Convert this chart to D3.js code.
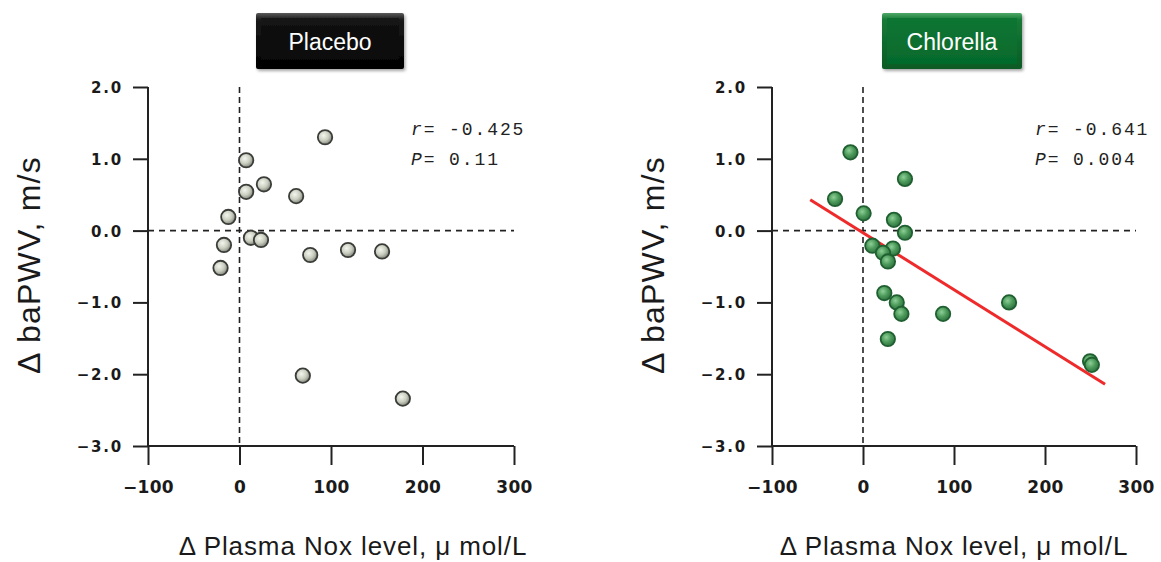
<!DOCTYPE html>
<html>
<head>
<meta charset="utf-8">
<script src="https://cdn.jsdelivr.net/npm/d3@7"></script>
<style>
  html, body { margin: 0; padding: 0; background: #ffffff; }
  svg { display: block; }
</style>
</head>
<body>
<svg id="chart" width="1161" height="562"></svg>
<script>
// ---------------- DATA ----------------
const xTicks = [-100, 0, 100, 200, 300];
const xTickLabels = ["\u2212100", "0", "100", "200", "300"];
const yTicks = [2, 1, 0, -1, -2, -3];
const yTickLabels = ["2.0", "1.0", "0.0", "\u22121.0", "\u22122.0", "\u22123.0"];

const panelTitles = ["Placebo", "Chlorella"];
const statR = ["-0.425", "-0.641"];
const statP = ["0.11", "0.004"];

const xAxisTitle = "\u0394 Plasma Nox level, \u03bc mol/L";
const yAxisTitle = "\u0394 baPWV, m/s";

// Placebo (n = 15)
const placeboX = [93.5, 7.3, 26.7, 7.3, 61.9, -12.2, 12.5, 23.5, -17.0, 77.3, 118.6, 155.8, -20.7, 69.2, 178.5];
const placeboY = [1.30, 0.98, 0.645, 0.54, 0.48, 0.19, -0.10, -0.13, -0.20, -0.34, -0.27, -0.29, -0.52, -2.02, -2.34];

// Chlorella (n = 18)
const chlorellaX = [-13.8, 46.1, -30.7, 0.7, 34.0, 46.1, 10.3, 32.9, 22.0, 27.4, 23.4, 37.1, 42.2, 88.0, 160.5, 27.3, 249.5, 251.5];
const chlorellaY = [1.09, 0.72, 0.44, 0.24, 0.15, -0.03, -0.21, -0.25, -0.31, -0.43, -0.87, -1.00, -1.16, -1.16, -1.00, -1.51, -1.82, -1.87];

// Regression line (Chlorella) end points
const fitX = [-58, 266];
const fitY = [0.43, -2.14];

// ---------------- DRAW ----------------
const svg = d3.select("#chart");
const defs = svg.append("defs");

const gPlacebo = defs.append("radialGradient").attr("id", "gradPlacebo")
  .attr("cx", "40%").attr("cy", "38%").attr("r", "65%");
gPlacebo.append("stop").attr("offset", "0%").attr("stop-color", "#f4f6ee");
gPlacebo.append("stop").attr("offset", "55%").attr("stop-color", "#c9cdbf");
gPlacebo.append("stop").attr("offset", "100%").attr("stop-color", "#7d8277");

const gGreen = defs.append("radialGradient").attr("id", "gradGreen")
  .attr("cx", "40%").attr("cy", "38%").attr("r", "65%");
gGreen.append("stop").attr("offset", "0%").attr("stop-color", "#8fcf98");
gGreen.append("stop").attr("offset", "50%").attr("stop-color", "#4e9c5c");
gGreen.append("stop").attr("offset", "100%").attr("stop-color", "#2d7040");

function linGrad(id, stops) {
  const g = defs.append("linearGradient").attr("id", id)
    .attr("x1", "0").attr("y1", "0").attr("x2", "0").attr("y2", "1");
  stops.forEach(s => g.append("stop").attr("offset", s[0]).attr("stop-color", s[1]));
}
linGrad("boxOuterBlack", [["0%", "#5a5a5a"], ["12%", "#1a1a1a"], ["100%", "#000000"]]);
linGrad("boxInnerBlack", [["0%", "#141414"], ["100%", "#050505"]]);
linGrad("boxOuterGreen", [["0%", "#4fa866"], ["12%", "#157a36"], ["100%", "#0a5a25"]]);
linGrad("boxInnerGreen", [["0%", "#0e7533"], ["100%", "#056a2c"]]);

const shadow = defs.append("filter").attr("id", "shadow")
  .attr("x", "-10%").attr("y", "-10%").attr("width", "130%").attr("height", "140%");
shadow.append("feDropShadow").attr("dx", 1.5).attr("dy", 2).attr("stdDeviation", 1.5)
  .attr("flood-color", "#000").attr("flood-opacity", 0.35);

const panels = [
  { xr: [148, 514], titleBox: [256, 404], xTitleX: 353, yTitleX: 40,
    xs: placeboX, ys: placeboY, fill: "url(#gradPlacebo)", stroke: "#3a3c38",
    outer: "url(#boxOuterBlack)", inner: "url(#boxInnerBlack)", fit: false },
  { xr: [772, 1136], titleBox: [882, 1022], xTitleX: 954, yTitleX: 664,
    xs: chlorellaX, ys: chlorellaY, fill: "url(#gradGreen)", stroke: "#1f5f30",
    outer: "url(#boxOuterGreen)", inner: "url(#boxInnerGreen)", fit: true }
];

const yRange = [446, 87];
const axisColor = "#222";

panels.forEach((p, pi) => {
  const x = d3.scaleLinear().domain([-100, 300]).range(p.xr);
  const y = d3.scaleLinear().domain([-3, 2]).range(yRange);
  const g = svg.append("g");

  // Title box
  const bx0 = p.titleBox[0], bx1 = p.titleBox[1], by0 = 13, by1 = 69;
  const box = g.append("g").attr("filter", "url(#shadow)");
  box.append("rect").attr("x", bx0).attr("y", by0).attr("width", bx1 - bx0).attr("height", by1 - by0)
    .attr("rx", 2).attr("fill", p.outer);
  box.append("rect").attr("x", bx0 + 5).attr("y", by0 + 5).attr("width", bx1 - bx0 - 10).attr("height", by1 - by0 - 10)
    .attr("fill", p.inner);
  g.append("text").attr("x", (bx0 + bx1) / 2).attr("y", 49.5)
    .attr("text-anchor", "middle").attr("fill", "#ffffff")
    .style("font-family", "'Liberation Sans', Arial, sans-serif").style("font-size", "23px")
    .text(panelTitles[pi]);

  // Reference dashed lines
  g.append("line").attr("x1", x(-100)).attr("x2", x(300)).attr("y1", y(0)).attr("y2", y(0))
    .attr("stroke", axisColor).attr("stroke-width", 1.6).attr("stroke-dasharray", "6,5");
  g.append("line").attr("x1", x(0)).attr("x2", x(0)).attr("y1", y(2)).attr("y2", y(-3))
    .attr("stroke", axisColor).attr("stroke-width", 1.6).attr("stroke-dasharray", "6,4");

  // Y axis
  const yAxis = d3.axisLeft(y).tickValues(yTicks).tickSize(15).tickPadding(10)
    .tickFormat((d, i) => yTickLabels[i]);
  const gy = g.append("g").attr("transform", `translate(${x(-100)},0)`).call(yAxis);
  gy.select(".domain").remove();
  gy.selectAll(".tick line").attr("stroke", axisColor).attr("stroke-width", 2);
  gy.selectAll(".tick text")
    .style("font-family", "'DejaVu Sans', sans-serif").style("font-weight", "bold")
    .style("font-size", "15px").style("letter-spacing", "1.8px").attr("fill", "#1a1a1a")
    .attr("x", -25).attr("dy", "0.36em");

  // X axis
  const xAxis = d3.axisBottom(x).tickValues(xTicks).tickSize(19).tickPadding(6)
    .tickFormat((d, i) => xTickLabels[i]);
  const gx = g.append("g").attr("transform", `translate(0,${y(-3)})`).call(xAxis);
  gx.select(".domain").remove();
  gx.selectAll(".tick line").attr("stroke", axisColor).attr("stroke-width", 2);
  gx.selectAll(".tick text")
    .style("font-family", "'DejaVu Sans', sans-serif").style("font-weight", "bold")
    .style("font-size", "17px").style("letter-spacing", "0.3px").attr("fill", "#1a1a1a")
    .attr("y", 47).attr("dy", 0);

  // Axis lines
  g.append("line").attr("x1", x(-100)).attr("x2", x(-100)).attr("y1", y(2)).attr("y2", y(-3))
    .attr("stroke", axisColor).attr("stroke-width", 2);
  g.append("line").attr("x1", x(-100)).attr("x2", x(300)).attr("y1", y(-3)).attr("y2", y(-3))
    .attr("stroke", axisColor).attr("stroke-width", 2);

  // Regression line
  if (p.fit) {
    g.append("line").attr("x1", x(fitX[0])).attr("y1", y(fitY[0]))
      .attr("x2", x(fitX[1])).attr("y2", y(fitY[1]))
      .attr("stroke", "#ee2a2a").attr("stroke-width", 3);
  }

  // Points
  g.append("g").selectAll("circle").data(p.xs.map((v, i) => [v, p.ys[i]])).join("circle")
    .attr("cx", d => x(d[0])).attr("cy", d => y(d[1])).attr("r", 7.2)
    .attr("fill", p.fill).attr("stroke", p.stroke).attr("stroke-width", 1.8);

  // Statistics annotation
  const sx = x(-100) + 263;
  const stat = g.append("g")
    .style("font-family", "'Liberation Mono', 'DejaVu Sans Mono', monospace")
    .style("font-size", "18px").style("letter-spacing", "1.9px").attr("fill", "#222");
  const t1 = stat.append("text").attr("x", sx).attr("y", 135).attr("xml:space", "preserve");
  t1.append("tspan").style("font-style", "italic").text("r");
  t1.append("tspan").text("= " + statR[pi]);
  const t2 = stat.append("text").attr("x", sx).attr("y", 165).attr("xml:space", "preserve");
  t2.append("tspan").style("font-style", "italic").text("P");
  t2.append("tspan").text("= " + statP[pi]);

  // Axis titles
  g.append("text").attr("transform", `translate(${p.yTitleX},265) rotate(-90)`)
    .attr("text-anchor", "middle").attr("fill", "#1a1a1a")
    .style("font-family", "'Liberation Sans', Arial, sans-serif").style("font-size", "32px")
    .style("letter-spacing", "1.2px")
    .text(yAxisTitle);
  g.append("text").attr("x", p.xTitleX).attr("y", 555)
    .attr("text-anchor", "middle").attr("fill", "#1a1a1a")
    .style("font-family", "'Liberation Sans', Arial, sans-serif").style("font-size", "26px")
    .style("letter-spacing", "0.9px")
    .text(xAxisTitle);
});
</script>
</body>
</html>
